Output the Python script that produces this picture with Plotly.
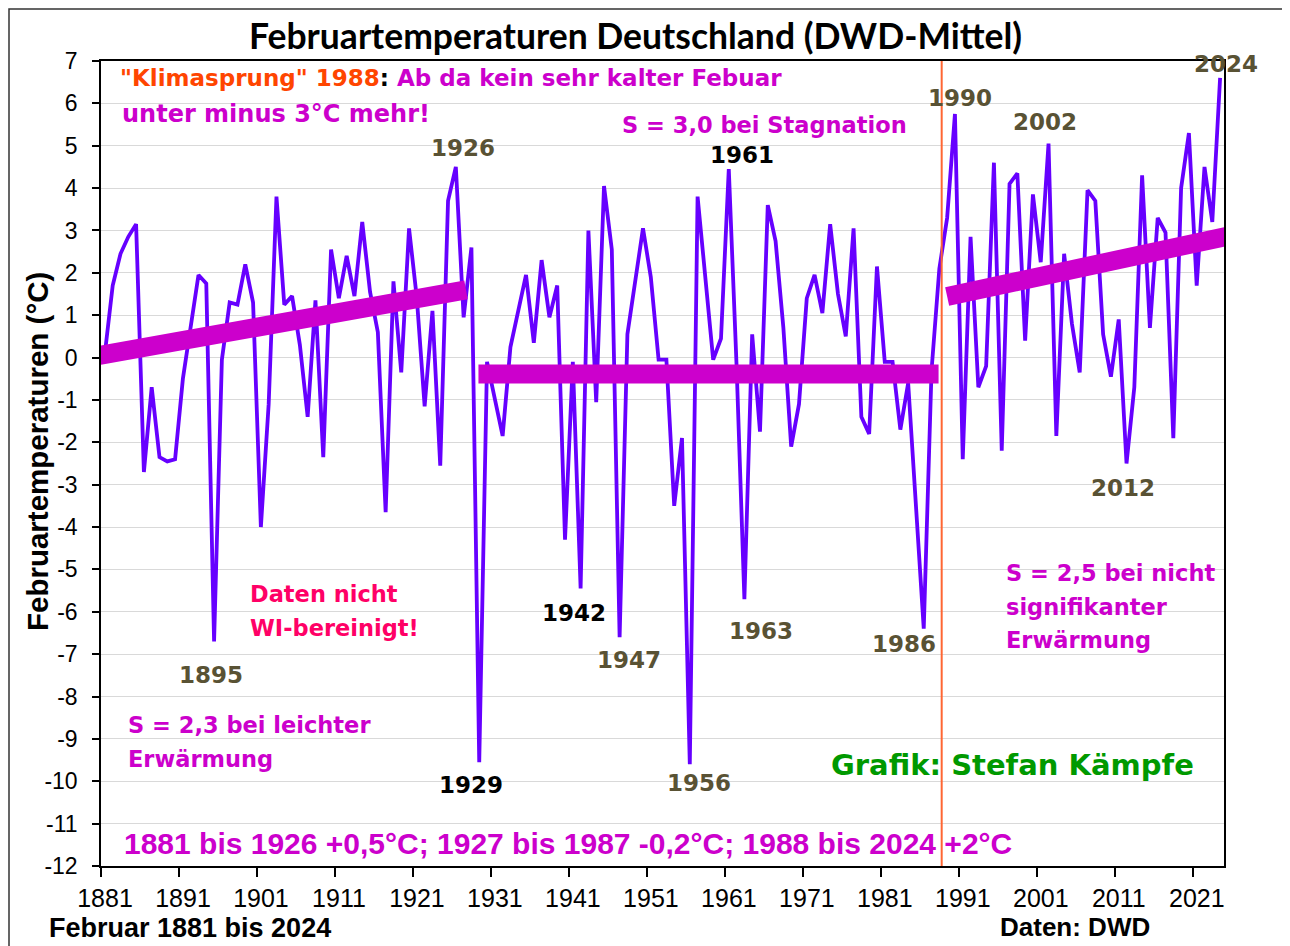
import plotly.graph_objects as go

# ---------------- data ----------------
years = list(range(1881, 2025))
feb_temp = [
    0.1, 1.7, 2.45, 2.85, 3.15, -2.7, -0.7, -2.35, -2.45, -2.4,      # 1881-1890
    -0.5, 0.7, 1.95, 1.75, -6.7, -0.05, 1.3, 1.25, 2.2, 1.3,         # 1891-1900
    -4.0, -1.1, 3.8, 1.25, 1.45, 0.3, -1.4, 1.35, -2.35, 2.55,       # 1901-1910
    1.4, 2.4, 1.45, 3.2, 1.55, 0.6, -3.65, 1.8, -0.35, 3.05,         # 1911-1920
    1.4, -1.15, 1.1, -2.55, 3.7, 4.5, 0.95, 2.6, -9.55, -0.1,        # 1921-1930
    -1.0, -1.85, 0.25, 1.1, 1.95, 0.35, 2.3, 0.95, 1.7, -4.3,        # 1931-1940
    -0.1, -5.45, 3.0, -1.05, 4.05, 2.55, -6.6, 0.55, 1.8, 3.05,      # 1941-1950
    1.9, -0.05, -0.05, -3.5, -1.9, -9.6, 3.8, 1.85, -0.05, 0.45,     # 1951-1960
    4.45, -0.2, -5.7, 0.55, -1.75, 3.6, 2.75, 0.7, -2.1, -1.1,       # 1961-1970
    1.4, 1.95, 1.05, 3.15, 1.5, 0.5, 3.05, -1.4, -1.8, 2.15,         # 1971-1980
    -0.1, -0.1, -1.7, -0.6, -3.4, -6.4, -0.3, 2.1, 3.3, 5.75,        # 1981-1990
    -2.4, 2.85, -0.7, -0.2, 4.6, -2.2, 4.1, 4.35, 0.4, 3.85,         # 1991-2000
    2.25, 5.05, -1.85, 2.45, 0.8, -0.35, 3.95, 3.7, 0.55, -0.45,     # 2001-2010
    0.9, -2.5, -0.7, 4.3, 0.7, 3.3, 2.95, -1.9, 4.0, 5.3,            # 2011-2020
    1.7, 4.5, 3.2, 6.6,                                              # 2021-2024
]
assert len(years) == len(feb_temp)

# trend bars (start/end year, start/end value)
trend1_years = [1880.3, 1927.3]
trend1_vals = [0.05, 1.6]
trend2_years = [1928.9, 1987.9]
trend2_vals = [-0.39, -0.39]
trend3_years = [1989.0, 2024.8]
trend3_vals = [1.44, 2.86]

jump_year = 1988.3

tick_years = list(range(1881, 2022, 10))
tick_labels = [str(y) for y in tick_years]
y_ticks = list(range(-12, 8))

# ---------------- figure ----------------
# page has an 8px body margin; all positions below are given in page pixels
OFF = 8
W, H = 1290 - OFF, 946 - OFF
L, R, T, B = 101 - OFF, 1224 - OFF, 61 - OFF, 866 - OFF


def px(x):
    return (x - OFF - L) / (R - L)


def py(y):
    return (B - (y - OFF)) / (B - T)


LINE = "#6600FF"
MAG = "#CC00CC"
OLIVE = "#595234"
ANN_FONT = "DejaVu Sans"
ARIAL = "Liberation Sans"

fig = go.Figure()
fig.add_trace(go.Scatter(x=years, y=feb_temp, mode="lines",
                         line=dict(color=LINE, width=3.8), hoverinfo="x+y"))
for xs, ys in [(trend1_years, trend1_vals), (trend2_years, trend2_vals),
               (trend3_years, trend3_vals)]:
    fig.add_trace(go.Scatter(x=xs, y=ys, mode="lines",
                             line=dict(color=MAG, width=19), hoverinfo="skip"))

ann = []


def text(t, x, y, color, size=22.5, family=ANN_FONT, anchor="left", angle=0):
    ann.append(dict(text=t, x=px(x), y=py(y), xref="paper", yref="paper",
                    xanchor=anchor, yanchor="middle", showarrow=False,
                    textangle=angle, align="left",
                    font=dict(family=family, size=size, color=color)))


def bold(t):
    return "<b>" + t + "</b>"


# title and outer labels
text(bold("Februartemperaturen Deutschland (DWD-Mittel)"), 635, 35, "black",
     size=35.5, family="Lato", anchor="center")
text(bold("Februartemperaturen (°C)"), 37, 452, "black", size=29.5,
     family=ARIAL, anchor="center", angle=-90)
text(bold("Februar 1881 bis 2024"), 47, 928, "black", size=27, family=ARIAL)
text(bold("Daten: DWD"), 998, 927, "black", size=26, family=ARIAL)

# annotations in plot
text(bold('<span style="color:#FF4500">"Klimasprung" 1988</span>'
          '<span style="color:black">: </span>Ab da kein sehr kalter Febuar'),
     118, 78, MAG, size=23)
text(bold("unter minus 3°C mehr!"), 120, 114, MAG, size=24)
text(bold("S = 3,0 bei Stagnation"), 620, 125, MAG)
text(bold("Daten nicht"), 248, 594, "#FF0066")
text(bold("WI-bereinigt!"), 248, 628, "#FF0066")
text(bold("S = 2,3 bei leichter"), 126, 725, MAG)
text(bold("Erwärmung"), 126, 759, MAG)
text(bold("S = 2,5 bei nicht"), 1004, 573, MAG)
text(bold("signifikanter"), 1004, 607, MAG)
text(bold("Erwärmung"), 1004, 640, MAG)
text(bold("Grafik: Stefan Kämpfe"), 829, 765, "#009900", size=29)
text(bold("1881 bis 1926 +0,5°C; 1927 bis 1987 -0,2°C; 1988 bis 2024 +2°C"),
     122, 843, MAG, size=30, family=ARIAL)

# year labels
for lab, x, y, c in [("1926", 463, 148, OLIVE), ("1961", 742, 155, "black"),
                     ("1990", 960, 98, OLIVE), ("2002", 1045, 122, OLIVE),
                     ("2024", 1226, 64, OLIVE), ("2012", 1123, 488, OLIVE),
                     ("1895", 211, 675, OLIVE), ("1929", 471, 785, "black"),
                     ("1942", 574, 613, "black"), ("1947", 629, 660, OLIVE),
                     ("1956", 699, 783, OLIVE), ("1963", 761, 631, OLIVE),
                     ("1986", 904, 644, OLIVE)]:
    text(bold(lab), x, y, c, anchor="center", size=23)

shapes = [
    dict(type="line", xref="x", yref="paper", x0=jump_year, x1=jump_year,
         y0=0, y1=1, line=dict(color="#FF6633", width=2), layer="above"),
    dict(type="rect", xref="paper", yref="paper", x0=px(9), x1=px(1287),
         y0=py(960), y1=py(9), line=dict(color="#333333", width=1.5),
         layer="below"),
]

fig.update_layout(
    width=W, height=H,
    margin=dict(l=L, r=W - R, t=T, b=H - B, pad=0),
    paper_bgcolor="white", plot_bgcolor="white",
    showlegend=False,
    annotations=ann, shapes=shapes,
    xaxis=dict(range=[1880.5, 2024.5], tickmode="array",
               tickvals=[y - 0.5 for y in tick_years], ticktext=tick_labels,
               ticklabelshift=4, ticks="outside", ticklen=9, tickwidth=1.5,
               tickcolor="black", showline=True, linecolor="black",
               linewidth=1.5, mirror=True, showgrid=False, zeroline=False,
               tickfont=dict(family=ARIAL, size=25, color="black")),
    yaxis=dict(range=[-12, 7], tickmode="array", tickvals=y_ticks,
               ticktext=[str(v) for v in y_ticks], ticks="outside",
               ticklen=7, tickwidth=1.5, tickcolor="black", showline=True,
               linecolor="black", linewidth=1.5, mirror=True, showgrid=True,
               gridcolor="#D9D9D9", gridwidth=1, zeroline=False,
               ticklabelstandoff=10,
               tickfont=dict(family=ARIAL, size=23, color="black")),
)
fig.update_xaxes(tickprefix="<b>", ticksuffix="</b>")
fig.update_yaxes(tickprefix="<b>", ticksuffix="</b>")

fig.write_html("out.html")
